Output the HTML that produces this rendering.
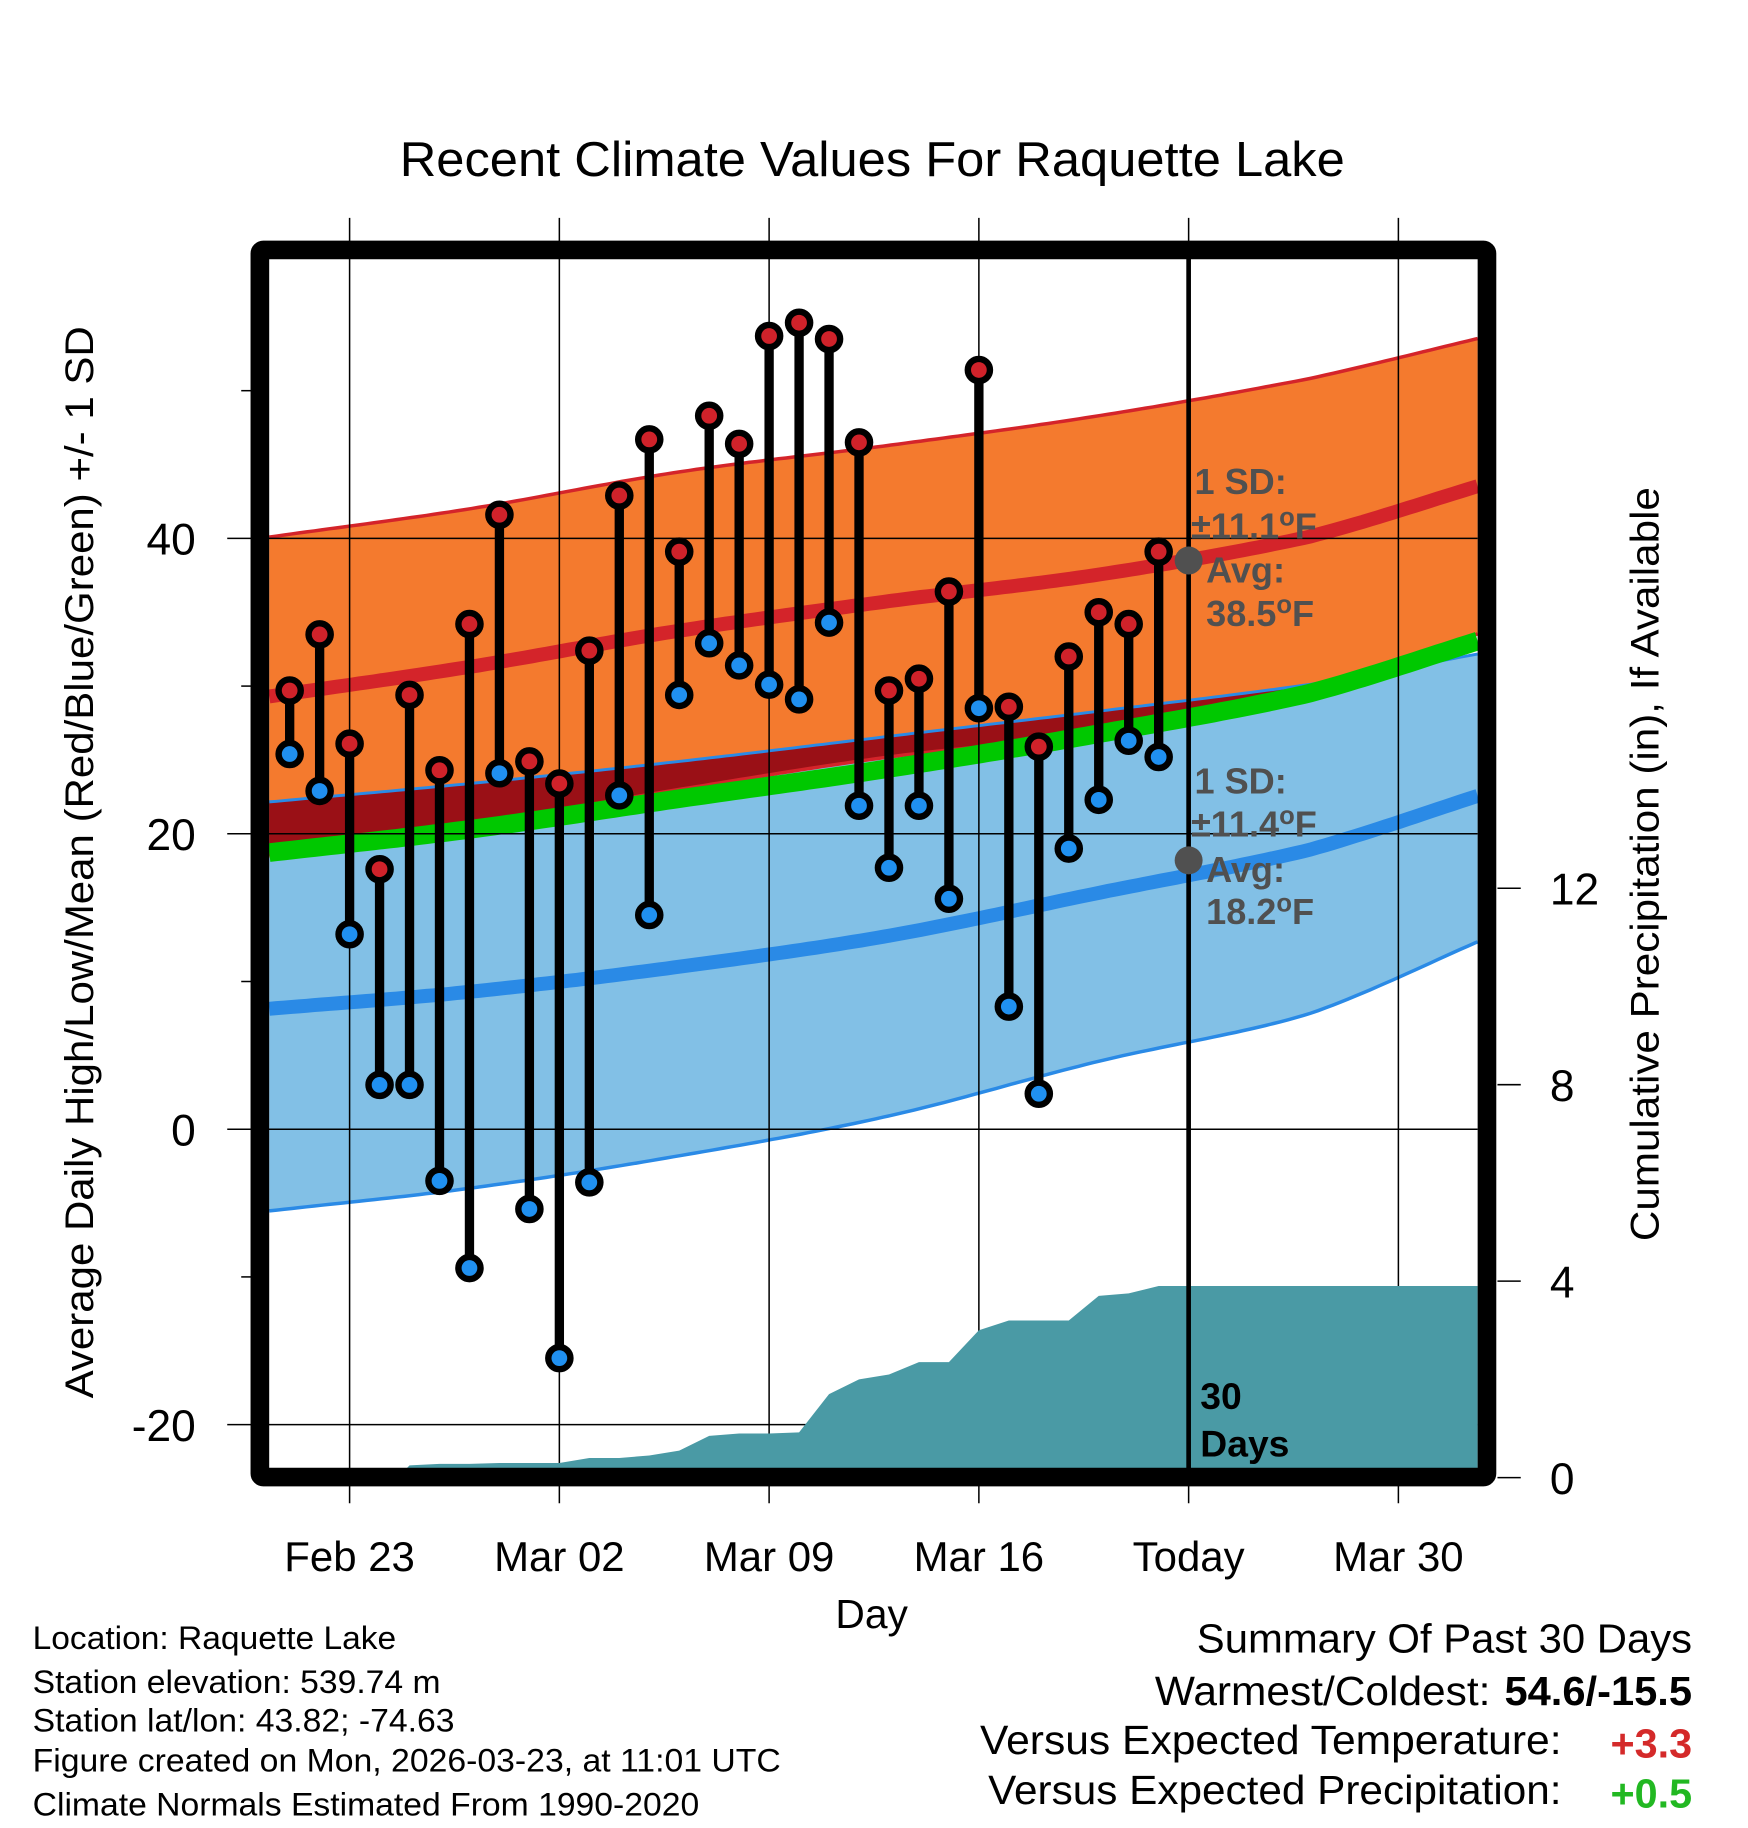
<!DOCTYPE html>
<html><head><meta charset="utf-8"><style>
html,body{margin:0;padding:0;background:#fff}
svg{display:block;font-family:"Liberation Sans",Arial,sans-serif}
</style></head><body>
<svg id="chart" width="1748" height="1828" viewBox="0 0 1500 1568.65" xmlns="http://www.w3.org/2000/svg">
<text x="343" y="151" font-size="42" textLength="811" lengthAdjust="spacingAndGlyphs">Recent Climate Values For Raquette Lake</text>
<g id="bands"></g>
<g id="grid"></g>
<g id="precip"></g>
<g id="marks"></g>
<g id="annot"></g>
<g id="frame"></g>
<g id="axes"></g>
<text transform="translate(80,1200) rotate(-90)" font-size="34" textLength="920" lengthAdjust="spacingAndGlyphs">Average Daily High/Low/Mean (Red/Blue/Green) +/- 1 SD</text>
<text transform="translate(1423,1065) rotate(-90)" font-size="34" textLength="647" lengthAdjust="spacingAndGlyphs">Cumulative Precipitation (in), If Available</text>
<text x="748" y="1397" font-size="35" text-anchor="middle">Day</text>
<g font-size="28">
<text x="28" y="1415" textLength="312" lengthAdjust="spacingAndGlyphs">Location: Raquette Lake</text>
<text x="28" y="1453" textLength="350" lengthAdjust="spacingAndGlyphs">Station elevation: 539.74 m</text>
<text x="28" y="1486" textLength="362" lengthAdjust="spacingAndGlyphs">Station lat/lon: 43.82; -74.63</text>
<text x="28" y="1520" textLength="642" lengthAdjust="spacingAndGlyphs">Figure created on Mon, 2026-03-23, at 11:01 UTC</text>
<text x="28" y="1558" textLength="572" lengthAdjust="spacingAndGlyphs">Climate Normals Estimated From 1990-2020</text>
</g>
<g font-size="35">
<text x="1027" y="1418" textLength="425" lengthAdjust="spacingAndGlyphs">Summary Of Past 30 Days</text>
<text x="991" y="1463" textLength="288" lengthAdjust="spacingAndGlyphs">Warmest/Coldest:</text>
<text x="1291" y="1463" font-weight="bold" textLength="161" lengthAdjust="spacingAndGlyphs">54.6/-15.5</text>
<text x="841" y="1505" textLength="499" lengthAdjust="spacingAndGlyphs">Versus Expected Temperature:</text>
<text x="1382" y="1508" font-weight="bold" fill="#d42a2a" textLength="70" lengthAdjust="spacingAndGlyphs">+3.3</text>
<text x="848" y="1548" textLength="492" lengthAdjust="spacingAndGlyphs">Versus Expected Precipitation:</text>
<text x="1382" y="1551" font-weight="bold" fill="#22b822" textLength="70" lengthAdjust="spacingAndGlyphs">+0.5</text>
</g>
</svg>
<script>
const NS="http://www.w3.org/2000/svg";
// data
const dateLabels=["Feb 23","Mar 02","Mar 09","Mar 16","Today","Mar 30"];
const yTicks=[-20,0,20,40];
const precipTicks=[0,4,8,12];
const obsDays=[-2,-1,0,1,2,3,4,5,6,7,8,9,10,11,12,13,14,15,16,17,18,19,20,21,22,23,24,25,26,27];
const highs=[29.7,33.5,26.1,17.6,29.4,24.3,34.2,41.6,24.9,23.4,32.4,42.9,46.7,39.1,48.3,46.4,53.7,54.6,53.5,46.5,29.7,30.5,36.4,51.4,28.6,25.9,32.0,35.0,34.2,39.1];
const lows=[25.4,22.9,13.2,3.0,3.0,-3.5,-9.4,24.1,-5.4,-15.5,-3.6,22.6,14.5,29.4,32.9,31.4,30.1,29.1,34.3,21.9,17.7,21.9,15.6,28.5,8.3,2.4,19.0,22.3,26.3,25.2];
const precip=[0,0,0,0,0.25,0.28,0.28,0.3,0.3,0.3,0.4,0.4,0.45,0.55,0.85,0.9,0.9,0.92,1.7,2.0,2.1,2.35,2.35,3.0,3.2,3.2,3.2,3.7,3.75,3.9];
const normDays=[-3,4,11,18,25,32,38];
const highUpper=[40.0,42.0,44.5,46.3,48.3,50.8,53.7];
const highLower=[18.4,20.6,23.0,25.2,26.8,29.4,33.8];
const lowAvg=[8.1,9.3,11.0,13.1,16.0,18.9,22.8];
const lowUpper=[22.1,23.4,24.9,26.6,28.3,30.1,32.3];
const lowLower=[-5.6,-4.0,-1.8,0.9,4.6,7.8,13.0];

const X0=231,X1=1268,Y0=222,Y1=1260;
const xs=d=>300+25.714*d;
const ys=v=>969-12.675*v;
const yp=v=>1268-42.15*v;
const dMin=(X0-300)/25.714,dMax=(X1-300)/25.714;
function interp(arr,d){const n=normDays.length;let i=0;while(i<n-2&&d>normDays[i+1])i++;
  const t=(d-normDays[i])/(normDays[i+1]-normDays[i]);
  const p0=arr[Math.max(i-1,0)],p1=arr[i],p2=arr[i+1],p3=arr[Math.min(i+2,n-1)];
  const m1=(i>0?(p2-p0)/2:(p2-p1)),m2=(i+2<n?(p3-p1)/2:(p2-p1));
  const t2=t*t,t3=t2*t;
  return (2*t3-3*t2+1)*p1+(t3-2*t2+t)*m1+(-2*t3+3*t2)*p2+(t3-t2)*m2;}
function el(tag,attrs,parent){const e=document.createElementNS(NS,tag);for(const k in attrs)e.setAttribute(k,attrs[k]);parent.appendChild(e);return e;}
const samples=[];for(let d=dMin;d<=dMax+1e-6;d+=0.25)samples.push(d);if(samples[samples.length-1]<dMax)samples.push(dMax);
function band(fu,fl){let p=samples.map(d=>xs(d).toFixed(1)+","+ys(fu(d)).toFixed(1));let q=samples.slice().reverse().map(d=>xs(d).toFixed(1)+","+ys(fl(d)).toFixed(1));return p.concat(q).join(" ");}
function line(f){return samples.map(d=>xs(d).toFixed(1)+","+ys(f(d)).toFixed(1)).join(" ");}
const B=document.getElementById("bands");
const hu=d=>interp(highUpper,d),hl=d=>interp(highLower,d),lu=d=>interp(lowUpper,d),ll=d=>interp(lowLower,d),la=d=>interp(lowAvg,d);
const ha=d=>(hu(d)+hl(d))/2, mean=d=>(ha(d)+la(d))/2;
let e;
e=el("polygon",{points:band(lu,ll),fill:"#82c0e6"},B);


e=el("polygon",{points:band(hu,hl),fill:"#f47a2e"},B);


e=el("polygon",{points:band(lu,d=>Math.min(lu(d),hl(d))),fill:"#9a1016"},B);


[[hu,"#d4242a",3,"high-upper-edge"],[hl,"#d4242a",3,"high-lower-edge"],[lu,"#2a8ae6",2.5,"low-upper-edge"],[ll,"#2a8ae6",3,"low-lower-edge"],[mean,"#00c800",16,"mean-line"],[ha,"#d4242a",12,"avg-high-line"],[la,"#2a8ae6",12,"avg-low-line"]].forEach(a=>{
  e=el("polyline",{points:line(a[0]),fill:"none",stroke:a[1],"stroke-width":a[2]},B);
  
  
});
// grid
const G=document.getElementById("grid");
dateLabels.forEach((lab,i)=>{const x=xs(i*7);
  e=el("line",{x1:x,x2:x,y1:187,y2:1290,stroke:"#000","stroke-width":1.3},G);
  
  
  e=el("text",{x:x,y:1348,"font-size":36,"text-anchor":"middle"},G);e.textContent=lab;
  
  
});
yTicks.forEach(v=>{const y=ys(v);
  e=el("line",{x1:195,x2:X1,y1:y,y2:y,stroke:"#000","stroke-width":1.3},G);
  
  
  e=el("text",{x:168,y:y+14,"font-size":38,"text-anchor":"end"},G);e.textContent=v;
  
  
});
[-10,10,30,50].forEach(v=>{const y=ys(v);
  e=el("line",{x1:207,x2:216,y1:y,y2:y,stroke:"#000","stroke-width":1.3},G);
  
  
});
// precip
const P=document.getElementById("precip");
let pts=[X0+","+Y1];pts.push(xs(1.6)+","+yp(0));
obsDays.forEach((d,i)=>{if(d>=2)pts.push(xs(d)+","+yp(precip[i]).toFixed(1));});
pts.push(X1+","+yp(precip[precip.length-1]).toFixed(1));pts.push(X1+","+Y1);
e=el("polygon",{points:pts.join(" "),fill:"#4a9aa5"},P);


precipTicks.forEach(v=>{const y=yp(v);
  e=el("line",{x1:1285,x2:1305,y1:y,y2:y,stroke:"#000","stroke-width":1.3},P);
  
  
  e=el("text",{x:1330,y:y+14,"font-size":38},P);e.textContent=v;
  
  
});
// today line
e=el("line",{x1:xs(28),x2:xs(28),y1:Y0,y2:Y1,stroke:"#000","stroke-width":4},P);


// marks
const M=document.getElementById("marks");
obsDays.forEach((d,i)=>{const x=xs(d);
  e=el("line",{x1:x,x2:x,y1:ys(highs[i]),y2:ys(lows[i]),stroke:"#000","stroke-width":8},M);
  
  
});
obsDays.forEach((d,i)=>{const x=xs(d);
  [[highs[i],"#d0222a","high-point"],[lows[i],"#2090f0","low-point"]].forEach(a=>{
    e=el("circle",{cx:x,cy:ys(a[0]),r:9.5,fill:a[1],stroke:"#000","stroke-width":5.5},M);
    
    
  });
});
// annotations
const A=document.getElementById("annot");
function ann(lines,xs0,ys0,name){const g=el("g",{fill:"#505050","font-size":31,"font-weight":"bold"},A);
  
  
  lines.forEach((t,i)=>{const tx=el("text",{x:xs0[i],y:ys0[i]},g);tx.innerHTML=t;});}
e=el("circle",{cx:xs(28),cy:ys(38.5),r:12,fill:"#505050"},A);


e=el("circle",{cx:xs(28),cy:ys(18.2),r:12,fill:"#505050"},A);


ann(["1 SD:","±11.1<tspan dy='-11' font-size='22'>o</tspan><tspan dy='11'>F</tspan>","Avg:","38.5<tspan dy='-11' font-size='22'>o</tspan><tspan dy='11'>F</tspan>"],[1025,1022,1035,1035],[424,462,500,537],"high-annotation");
ann(["1 SD:","±11.4<tspan dy='-11' font-size='22'>o</tspan><tspan dy='11'>F</tspan>","Avg:","18.2<tspan dy='-11' font-size='22'>o</tspan><tspan dy='11'>F</tspan>"],[1025,1022,1035,1035],[681,718,757,793],"low-annotation");
const g30=el("g",{"font-size":32,"font-weight":"bold"},A);


el("text",{x:1030,y:1209},g30).textContent="30";
el("text",{x:1030,y:1250},g30).textContent="Days";
// frame
e=el("rect",{x:223,y:214.5,width:1053,height:1053,fill:"none",stroke:"#000","stroke-width":16,rx:3},document.getElementById("frame"));


</script>
</body></html>
